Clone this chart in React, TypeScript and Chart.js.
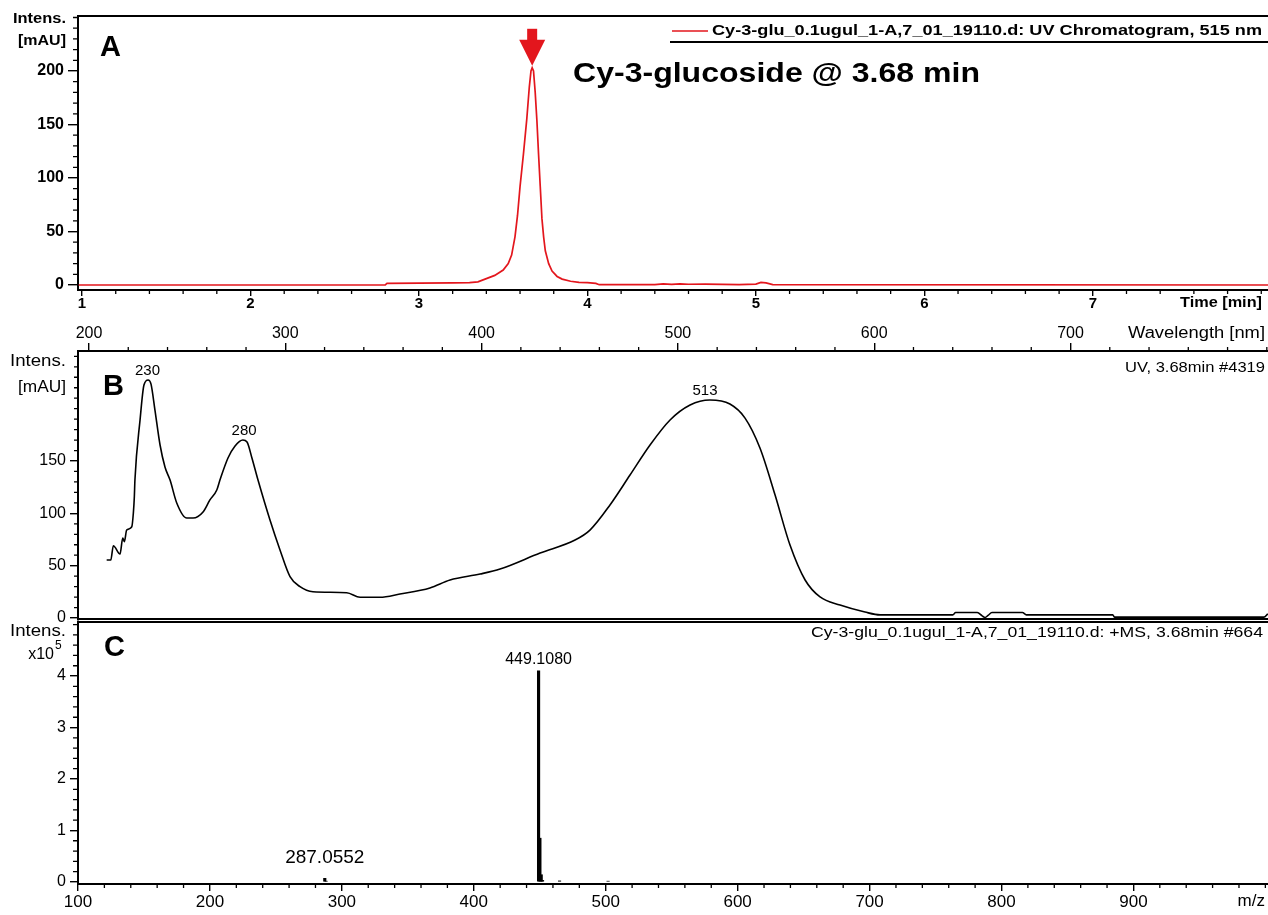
import React, { useEffect, useRef } from 'react';
import { Chart, registerables } from 'chart.js';

Chart.register(...registerables);

const W = 1268;
const H = 915;
const ARIAL = "'Liberation Sans', Arial, Helvetica, sans-serif";
const RED = '#e3161d';

// ---------- Panel A : UV chromatogram 515 nm ----------
const uvTime = [0.98, 2.8, 2.81, 3.0, 3.2, 3.3, 3.35, 3.4, 3.45, 3.5, 3.53, 3.55, 3.57, 3.585, 3.6, 3.62, 3.64, 3.655, 3.665, 3.672, 3.68, 3.69, 3.7, 3.71, 3.72, 3.73, 3.74, 3.75, 3.77, 3.79, 3.82, 3.85, 3.9, 3.95, 4.0, 4.05, 4.07, 4.4, 4.45, 4.5, 4.55, 4.6, 4.7, 4.8, 4.9, 5.0, 5.03, 5.06, 5.1, 8.04];
const uvIntensity = [0, 0.2, 1.5, 1.8, 2.0, 2.2, 3, 6, 9, 14, 20, 28, 45, 65, 92, 122, 155, 185, 200, 203, 200, 180, 154, 122, 92, 62, 45, 32, 20, 13, 8, 5.5, 3.5, 2.5, 2.2, 1.5, 0.3, 0.4, 1.0, 0.6, 1.1, 0.7, 0.9, 0.5, 0.3, 0.8, 2.5, 2.0, 0.4, 0];
const uvTimeTicks = [1, 2, 3, 4, 5, 6, 7];
const uvIntensityTicks = [0, 50, 100, 150, 200];
const uvPeakTime = 3.672;
const uvPeakValue = 203;

// ---------- Panel B : UV spectrum at 3.68 min ----------
const specWavelength = [209.0, 211.1, 212.4, 215.8, 217.2, 218.0, 219.2, 221.8, 222.6, 223.1, 223.4, 226.0, 228.0, 230.1, 231.6, 233.6, 236.2, 238.7, 241.3, 244.7, 249.8, 253.0, 258.1, 261.6, 265.1, 266.7, 270.8, 274.4, 278.4, 280.5, 283.0, 286.1, 292.2, 297.3, 302.4, 307.5, 314.1, 331.3, 338.1, 348.2, 358.4, 373.7, 383.9, 399.2, 409.4, 429.8, 447.6, 455.2, 465.4, 475.6, 485.8, 496.0, 506.2, 516.3, 526.5, 534.2, 541.8, 549.5, 557.1, 564.8, 572.4, 582.6, 595.3, 603.0, 640.0, 641.5, 652.5, 655.0, 656.5, 658.0, 660.0, 675.5, 677.5, 721.5, 722.5, 798.5, 800.5];
const specIntensity = [55.4, 55.4, 69.1, 61.1, 76.4, 72.9, 84.1, 87.2, 100.3, 115.9, 131.8, 189.0, 222.6, 227.4, 223.5, 198.7, 165.3, 144.3, 131.8, 109.9, 95.5, 95.5, 101.3, 112.8, 122.3, 131.8, 152.9, 164.4, 170.0, 168.1, 152.9, 131.8, 93.6, 65.0, 39.5, 29.9, 25.1, 24.2, 19.8, 19.8, 22.9, 28.7, 36.3, 42.0, 46.8, 62.1, 74.5, 84.0, 108.0, 136.6, 165.3, 189.2, 203.5, 208.3, 204.4, 191.0, 162.4, 117.5, 69.7, 36.3, 20.1, 12.4, 5.7, 3.0, 3.0, 5.2, 5.2, 2.0, 0.5, 2.5, 5.2, 5.2, 3.0, 3.0, 0.8, 0.8, 4.0];
const wavelengthTicks = [200, 300, 400, 500, 600, 700];
const specIntensityTicks = [0, 50, 100, 150];
const specPeakLabels = ['230', '280', '513'];
const specPeakWavelength = [229.8, 279.0, 513.8];
const specPeakValue = [227.4, 170.0, 208.3];

// ---------- Panel C : +MS spectrum at 3.68 min ----------
const msMz = [287.0552, 288.06, 449.108, 450.11, 451.11, 452.1, 465.0, 501.8];
const msIntensity = [0.07, 0.015, 4.1, 0.85, 0.14, 0.03, 0.02, 0.015];
const mzTicks = [100, 200, 300, 400, 500, 600, 700, 800, 900];
const msIntensityTicks = [0, 1, 2, 3, 4];
const msPeakLabels = ['449.1080', '287.0552'];
const msPeakMz = [449.108, 287.0552];
const msPeakValue = [4.1, 0.07];

function steps(from: number, to: number, step: number): number[] {
  const out: number[] = [];
  for (let v = from; v <= to + 1e-9; v += step) out.push(Math.round(v * 1000) / 1000);
  return out;
}

function txt(ctx: CanvasRenderingContext2D, s: string, x: number, y: number, font: string, align: 'left' | 'right' | 'center', width?: number, color = '#000') {
  ctx.save();
  ctx.font = font;
  ctx.fillStyle = color;
  ctx.textBaseline = 'middle';
  ctx.textAlign = 'left';
  const w = ctx.measureText(s).width;
  const sx = width ? width / w : 1;
  const tw = w * sx;
  const left = align === 'left' ? x : align === 'right' ? x - tw : x - tw / 2;
  ctx.translate(left, y);
  ctx.scale(sx, 1);
  ctx.fillText(s, 0, 0);
  ctx.restore();
}

function minor(ctx: CanvasRenderingContext2D, scale: any, values: number[], len: number, side: 'left' | 'top' | 'bottom') {
  ctx.save();
  ctx.strokeStyle = '#000';
  ctx.lineWidth = 1.3;
  ctx.beginPath();
  for (const v of values) {
    if (v < scale.min || v > scale.max) continue;
    const p = scale.getPixelForValue(v);
    if (side === 'left') { ctx.moveTo(scale.right, p); ctx.lineTo(scale.right - len, p); }
    else if (side === 'bottom') { ctx.moveTo(p, scale.top); ctx.lineTo(p, scale.top + len); }
    else { ctx.moveTo(p, scale.bottom); ctx.lineTo(p, scale.bottom - len); }
  }
  ctx.stroke();
  ctx.restore();
}

function hline(ctx: CanvasRenderingContext2D, x1: number, x2: number, y: number, w: number, color = '#000') {
  ctx.save();
  ctx.strokeStyle = color;
  ctx.lineWidth = w;
  ctx.beginPath();
  ctx.moveTo(x1, y);
  ctx.lineTo(x2, y);
  ctx.stroke();
  ctx.restore();
}

const fixedTicks = (vals: number[]) => (s: any) => { s.ticks = vals.map((v) => ({ value: v })); };

function axisCommon(tickLen: number, font: any, padding: number) {
  return {
    grid: { drawOnChartArea: false, drawTicks: true, tickLength: tickLen, color: '#000', lineWidth: 1.4 },
    border: { display: true, color: '#000', width: 2 },
    ticks: { color: '#000', font, padding, maxRotation: 0, autoSkip: false, callback: (v: any) => String(v) },
  };
}

export default function App() {
  const refA = useRef<HTMLCanvasElement>(null);
  const refB = useRef<HTMLCanvasElement>(null);
  const refC = useRef<HTMLCanvasElement>(null);

  useEffect(() => {
    const charts: Chart[] = [];

    // ---------------- Panel A ----------------
    const decorA = {
      id: 'decorA',
      afterDraw(chart: any) {
        const ctx = chart.ctx as CanvasRenderingContext2D;
        const xs = chart.scales.x;
        const ys = chart.scales.y;
        const a = chart.chartArea;
        hline(ctx, a.left - 1, W, a.top, 2);
        minor(ctx, xs, steps(1, 8, 0.2).filter((v) => !uvTimeTicks.includes(v)), 4, 'bottom');
        minor(ctx, ys, steps(0, 250, 10).filter((v) => !uvIntensityTicks.includes(v)), 5, 'left');
        // legend box
        hline(ctx, 670, W, 42, 2);
        hline(ctx, 672, 708, 31, 1.5, RED);
        txt(ctx, 'Cy-3-glu_0.1ugul_1-A,7_01_19110.d: UV Chromatogram, 515 nm', 712, 31, `bold 15px ${ARIAL}`, 'left', 550);
        // axis titles
        txt(ctx, 'Intens.', 66, 19, `bold 14px ${ARIAL}`, 'right', 53);
        txt(ctx, '[mAU]', 66, 41, `bold 14px ${ARIAL}`, 'right', 48);
        txt(ctx, 'Time [min]', 1262, 303, `bold 14px ${ARIAL}`, 'right', 82);
        txt(ctx, 'A', 100, 48, `bold 29px ${ARIAL}`, 'left');
        txt(ctx, 'Cy-3-glucoside @ 3.68 min', 573, 75, `bold 27px ${ARIAL}`, 'left', 407);
        // arrow at peak
        const px = xs.getPixelForValue(uvPeakTime);
        const tip = ys.getPixelForValue(uvPeakValue) - 2;
        ctx.save();
        ctx.fillStyle = RED;
        ctx.fillRect(px - 5, tip - 37, 10, 12);
        ctx.beginPath();
        ctx.moveTo(px - 13, tip - 26);
        ctx.lineTo(px + 13, tip - 26);
        ctx.lineTo(px, tip);
        ctx.closePath();
        ctx.fill();
        ctx.restore();
      },
    };

    const ca = axisCommon(6, { family: ARIAL, size: 15, weight: 'bold', lineHeight: 1 }, 0);
    const cay = axisCommon(10, { family: ARIAL, size: 16, weight: 'bold' }, 4);
    charts.push(new Chart(refA.current!, {
      type: 'line',
      data: {
        datasets: [{
          data: uvTime.map((t, i) => ({ x: t, y: uvIntensity[i] })),
          borderColor: RED, borderWidth: 1.7, pointRadius: 0, tension: 0, fill: false,
        }],
      },
      options: {
        responsive: false, animation: false, devicePixelRatio: 1,
        layout: { padding: { top: 16, left: 0, right: 0, bottom: H - 320 } },
        plugins: { legend: { display: false }, tooltip: { enabled: false } },
        scales: {
          x: { type: 'linear', min: 0.976, max: 8.04, afterBuildTicks: fixedTicks(uvTimeTicks), afterFit: (s: any) => { s.height = 30; }, ...ca },
          y: { type: 'linear', min: -4.67, max: 251.4, afterBuildTicks: fixedTicks(uvIntensityTicks), afterFit: (s: any) => { s.width = 78; }, ...cay },
        },
      } as any,
      plugins: [decorA],
    }));

    // ---------------- Panel B ----------------
    const decorB = {
      id: 'decorB',
      afterDraw(chart: any) {
        const ctx = chart.ctx as CanvasRenderingContext2D;
        const xs = chart.scales.x;
        const ys = chart.scales.y;
        const a = chart.chartArea;
        hline(ctx, a.left - 1, W, 619, 2);
        minor(ctx, xs, steps(200, 800, 20).filter((v) => !wavelengthTicks.includes(v)), 4, 'top');
        minor(ctx, ys, steps(0, 250, 10).filter((v) => !specIntensityTicks.includes(v)), 4, 'left');
        txt(ctx, 'Wavelength [nm]', 1265, 334, `16px ${ARIAL}`, 'right', 137);
        txt(ctx, 'Intens.', 66, 362, `16px ${ARIAL}`, 'right', 56);
        txt(ctx, '[mAU]', 66, 388, `16px ${ARIAL}`, 'right', 48);
        txt(ctx, 'B', 103, 387, `bold 29px ${ARIAL}`, 'left');
        txt(ctx, 'UV, 3.68min #4319', 1265, 368, `15px ${ARIAL}`, 'right', 140);
        specPeakLabels.forEach((lab, i) => {
          const x = xs.getPixelForValue(specPeakWavelength[i]);
          const y = ys.getPixelForValue(specPeakValue[i]) - 9;
          txt(ctx, lab, x, y, `15px ${ARIAL}`, 'center');
        });
      },
    };
    const cb = axisCommon(8, { family: ARIAL, size: 16 }, 0);
    const cby = axisCommon(8, { family: ARIAL, size: 16 }, 4);
    charts.push(new Chart(refB.current!, {
      type: 'line',
      data: {
        datasets: [{
          data: specWavelength.map((w, i) => ({ x: w, y: specIntensity[i] })),
          borderColor: '#000', borderWidth: 1.6, pointRadius: 0, cubicInterpolationMode: 'monotone', fill: false,
        }],
      },
      options: {
        responsive: false, animation: false, devicePixelRatio: 1,
        layout: { padding: { top: 320, left: 0, right: 0, bottom: H - 620 } },
        plugins: { legend: { display: false }, tooltip: { enabled: false } },
        scales: {
          x: { type: 'linear', position: 'top', min: 194.4, max: 800.6, afterBuildTicks: fixedTicks(wavelengthTicks), afterFit: (s: any) => { s.height = 31; }, ...cb },
          y: { type: 'linear', min: -1.9, max: 255.1, afterBuildTicks: fixedTicks(specIntensityTicks), afterFit: (s: any) => { s.width = 78; }, ...cby },
        },
      } as any,
      plugins: [decorB],
    }));

    // ---------------- Panel C ----------------
    const decorC = {
      id: 'decorC',
      afterDraw(chart: any) {
        const ctx = chart.ctx as CanvasRenderingContext2D;
        const xs = chart.scales.x;
        const ys = chart.scales.y;
        const a = chart.chartArea;
        hline(ctx, a.left - 1, W, a.top, 2);
        minor(ctx, xs, steps(100, 1000, 20).filter((v) => !mzTicks.includes(v)), 4, 'bottom');
        minor(ctx, ys, steps(0, 5, 0.2).filter((v) => !msIntensityTicks.includes(v)), 5, 'left');
        txt(ctx, 'Intens.', 66, 632, `16px ${ARIAL}`, 'right', 56);
        txt(ctx, 'x10', 54, 655, `16px ${ARIAL}`, 'right');
        txt(ctx, '5', 55, 646, `12px ${ARIAL}`, 'left');
        txt(ctx, 'C', 104, 648, `bold 29px ${ARIAL}`, 'left');
        txt(ctx, 'Cy-3-glu_0.1ugul_1-A,7_01_19110.d: +MS, 3.68min #664', 1263, 633, `15px ${ARIAL}`, 'right', 452);
        txt(ctx, 'm/z', 1265, 901, `17px ${ARIAL}`, 'right');
        const offs = [11, 21];
        const sizes = [16, 19];
        msPeakLabels.forEach((lab, i) => {
          const x = xs.getPixelForValue(msPeakMz[i]);
          const y = ys.getPixelForValue(msPeakValue[i]) - offs[i];
          txt(ctx, lab, x, y, `${sizes[i]}px ${ARIAL}`, 'center');
        });
      },
    };
    const cc = axisCommon(7, { family: ARIAL, size: 17 }, 1);
    const ccy = axisCommon(8, { family: ARIAL, size: 16 }, 4);
    charts.push(new Chart(refC.current!, {
      type: 'bar',
      data: {
        datasets: [{
          data: msMz.map((m, i) => ({ x: m, y: msIntensity[i] })),
          backgroundColor: '#000', borderWidth: 0, barThickness: 2.5,
        }],
      },
      options: {
        responsive: false, animation: false, devicePixelRatio: 1,
        layout: { padding: { top: 622, left: 0, right: 0, bottom: 0 } },
        plugins: { legend: { display: false }, tooltip: { enabled: false } },
        scales: {
          x: { type: 'linear', offset: false, min: 100, max: 1002, afterBuildTicks: fixedTicks(mzTicks), afterFit: (s: any) => { s.height = 31; }, ...cc, grid: { ...cc.grid, offset: false } },
          y: { type: 'linear', min: -0.04, max: 5.05, afterBuildTicks: fixedTicks(msIntensityTicks), afterFit: (s: any) => { s.width = 78; }, ...ccy },
        },
      } as any,
      plugins: [decorC],
    }));

    return () => { charts.forEach((c) => c.destroy()); };
  }, []);

  const cs: React.CSSProperties = { position: 'absolute', left: 0, top: 0 };
  return (
    <div style={{ position: 'absolute', left: 0, top: 0, width: W, height: H, background: '#fff' }}>
      <canvas ref={refA} width={W} height={H} style={cs} />
      <canvas ref={refB} width={W} height={H} style={cs} />
      <canvas ref={refC} width={W} height={H} style={cs} />
    </div>
  );
}
